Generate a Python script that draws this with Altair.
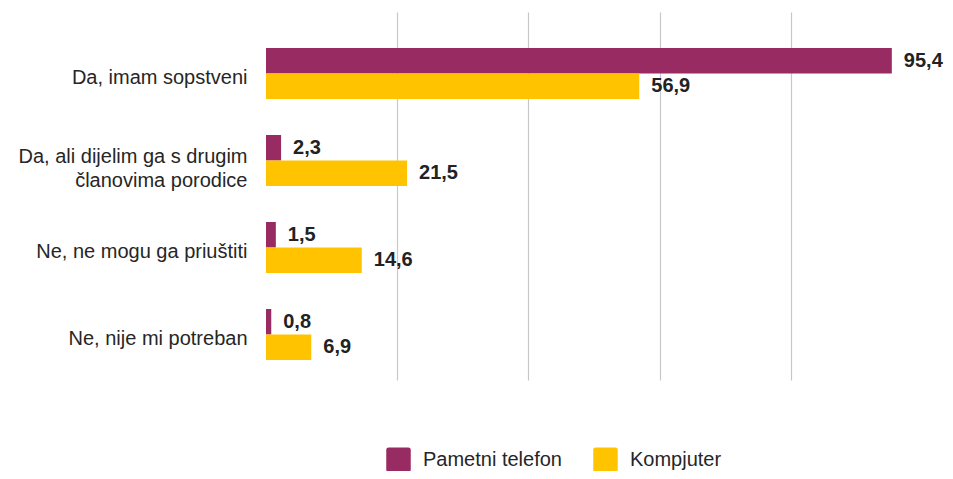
import altair as alt
import pandas as pd

categories = [
    "Da, imam sopstveni",
    "Da, ali dijelim ga s drugim|članovima porodice",
    "Ne, ne mogu ga priuštiti",
    "Ne, nije mi potreban",
]
series = ["Pametni telefon", "Kompjuter"]
phone = [95.4, 2.3, 1.5, 0.8]
computer = [56.9, 21.5, 14.6, 6.9]
colors = ["#992B63", "#FFC300"]
grid_values = [20, 40, 60, 80]

rows = []
for c, p, k in zip(categories, phone, computer):
    rows.append({"cat": c, "series": series[0], "value": p})
    rows.append({"cat": c, "series": series[1], "value": k})
df = pd.DataFrame(rows)
df["label"] = df["value"].map(lambda v: f"{v:.1f}".replace(".", ","))

rounded = ("M-1,-0.8Q-1,-1,-0.8,-1L0.8,-1Q1,-1,1,-0.8L1,0.8Q1,1,0.8,1"
           "L-0.8,1Q-1,1,-1,0.8Z")

y_enc = alt.Y(
    "cat:N",
    sort=categories,
    scale=alt.Scale(paddingInner=0.414, paddingOuter=0.322, align=0.643),
    axis=alt.Axis(
        title=None,
        labelExpr="split(datum.label, '|')",
        labelFont="Liberation Sans",
        labelFontSize=20,
        labelColor="#262626",
        labelLineHeight=24,
        labelPadding=19,
        labelLimit=400,
        labelOffset={"condition": {"test": "indexof(datum.value, '|') >= 0", "value": -4}, "value": 4},
        ticks=False,
        domain=False,
        grid=False,
    ),
)
x_enc = alt.X(
    "value:Q",
    scale=alt.Scale(domain=[0, 100], nice=False, zero=True),
    axis=alt.Axis(
        title=None,
        values=grid_values,
        labels=False,
        ticks=False,
        domain=False,
        grid=True,
        gridColor="#C8C8CC",
        gridWidth=1.2,
    ),
)
yoff = alt.YOffset("series:N", sort=series,
                   scale=alt.Scale(paddingInner=0, paddingOuter=0))

bars = alt.Chart(df).mark_bar().encode(
    x=x_enc,
    y=y_enc,
    yOffset=yoff,
    color=alt.Color(
        "series:N",
        sort=series,
        scale=alt.Scale(domain=series, range=colors),
        legend=alt.Legend(
            title=None,
            orient="none",
            legendX=120,
            legendY=435,
            direction="horizontal",
            symbolType=rounded,
            symbolSize=600,
            symbolStrokeWidth=0,
            symbolOpacity=1,
            labelFont="Liberation Sans",
            labelFontSize=20,
            labelColor="#262626",
            labelOffset=12,
            columnPadding=31,
            padding=0,
        ),
    ),
)

texts = alt.Chart(df).mark_text(
    align="left", baseline="middle", dx=12,
    font="Liberation Sans", fontSize=20, fontWeight="bold", color="#222222",
).encode(
    x=alt.X("value:Q"),
    y=alt.Y("cat:N", sort=categories),
    yOffset=alt.YOffset("series:N", sort=series),
    text="label:N",
)

chart = alt.layer(bars, texts).properties(
    width=656,
    height=368,
    autosize=alt.AutoSizeParams(type="none"),
    padding={"left": 258, "top": 4, "right": 23, "bottom": 91},
).configure_view(stroke=None).configure_bar(
    cornerRadius=0
)

chart.save("out.html", embed_options={"renderer": "svg", "actions": False})
